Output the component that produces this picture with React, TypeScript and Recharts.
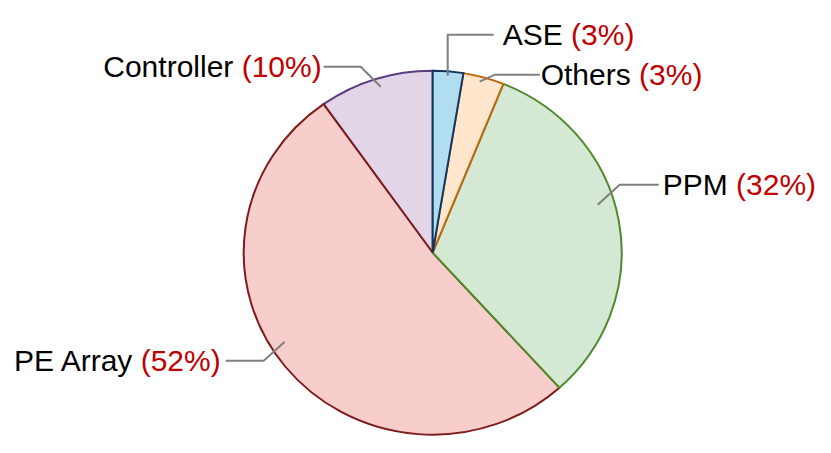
import React from "react";
import { Pie, PieChart, Sector } from "recharts";

const names = ["ASE", "Others", "PPM", "PE Array", "Controller"];
const shares = [2.6, 3.5, 32.2, 51.9, 9.8];
const labelPercents = ["3%", "3%", "32%", "52%", "10%"];

const fills = ["#b1ddf0", "#ffe6cc", "#d5e8d4", "#f8cecc", "#e1d5e7"];
const strokes = ["#12365f", "#c0650c", "#4f8a2b", "#7e1c1c", "#5a3d80"];

// drawn counter-clockwise from the top, so ASE's outline ends up on top
const data = names
  .map((name, i) => ({
    name,
    value: shares[i],
    fill: fills[i],
    stroke: strokes[i],
  }))
  .reverse();

// leader line layout, offsets from the pie centre (px)
const leaders = [
  { start: [15, -177], elbow: [15, -218], end: [61, -218], textX: 70, anchor: "start" },
  { start: [47, -171], elbow: [62, -178], end: [107, -178], textX: 108, anchor: "start" },
  { start: [165, -48], elbow: [187, -68], end: [226, -68], textX: 230, anchor: "start" },
  { start: [-148, 89], elbow: [-169, 108], end: [-207, 108], textX: -212, anchor: "end" },
  { start: [-52, -166], elbow: [-72, -186], end: [-109, -186], textX: -111, anchor: "end" },
];

const CX = 432.7;
const CY = 252.7;
const RX = 189;
const RY = 182;

const squash = `translate(${CX} ${CY}) scale(1 ${RY / RX}) translate(${-CX} ${-CY})`;

const renderShape = (props: any) => (
  <g transform={squash}>
    <Sector {...props} strokeWidth={2} />
  </g>
);

const renderLabel = (props: any) => {
  const i = names.indexOf(props.name ?? props.payload?.name);
  const l = leaders[i];
  const pts = [l.start, l.elbow, l.end].map(([x, y]) => `${CX + x},${CY + y}`).join(" ");
  return (
    <g key={`lbl-${i}`}>
      <polyline points={pts} fill="none" stroke="#7f7f7f" strokeWidth={2} />
      <text
        x={CX + l.textX}
        y={CY + l.elbow[1] + 10}
        textAnchor={l.anchor as any}
        fontSize={30}
        fontFamily="'Liberation Sans', Arial, sans-serif"
        fill="#000000"
      >
        {names[i]}
        <tspan fill="#c00000">{` (${labelPercents[i]})`}</tspan>
      </text>
    </g>
  );
};

export default function App() {
  return (
    <div style={{ position: "absolute", left: 0, top: 0, width: 831, height: 453, background: "#fff" }}>
      <PieChart width={831} height={453} margin={{ top: 0, right: 0, bottom: 0, left: 0 }}>
        <Pie
          data={data}
          dataKey="value"
          nameKey="name"
          cx={CX}
          cy={CY}
          outerRadius={RX}
          startAngle={90}
          endAngle={450}
          shape={renderShape}
          label={renderLabel}
          labelLine={false}
          isAnimationActive={false}
        />
      </PieChart>
    </div>
  );
}
